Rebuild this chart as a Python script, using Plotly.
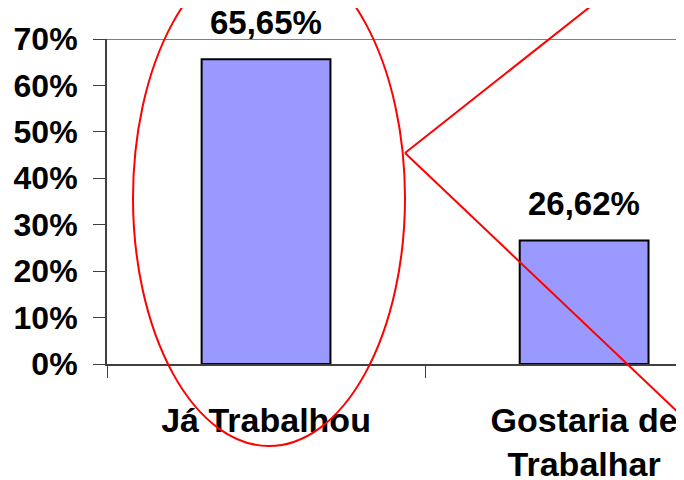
import plotly.graph_objects as go

categories = ["Já Trabalhou", "Gostaria de<br>Trabalhar"]
values = [65.65, 26.62]
y_ticks = [0, 10, 20, 30, 40, 50, 60, 70]
y_tick_labels = [f"{t}%" for t in y_ticks]

# the page body has an 8px margin, so the figure is drawn 8px in from the window edge
OFF = 8
W, H = 684 - OFF, 480 - OFF


def px(x):
    return (x - OFF) / W


def py(y):
    return 1 - (y - OFF) / H


def bold(size):
    return dict(family="Liberation Sans, Arial, sans-serif", size=size, color="black", weight="bold")


fig = go.Figure(go.Bar(
    x=categories,
    y=values,
    width=0.405,
    marker=dict(color="#9999FF", line=dict(color="black", width=2)),
))

# value labels above bars
for c, v in zip(categories, values):
    fig.add_annotation(
        x=c, y=v, text=f"{v:.2f}".replace(".", ",") + "%",
        showarrow=False, yanchor="bottom", yshift=16, font=bold(33),
    )

# grey line at the top of the plot area (70%)
fig.add_shape(type="line", xref="paper", yref="y", x0=px(95), x1=1, y0=70, y1=70,
              line=dict(color="#808080", width=2), layer="below")

# red highlight: ellipse around first bar and two lines leaving it
fig.add_shape(type="circle", xref="paper", yref="paper",
              x0=px(133), x1=px(405), y0=py(446), y1=py(-50),
              line=dict(color="#FF0000", width=2))
fig.add_shape(type="line", xref="paper", yref="paper",
              x0=px(405), y0=py(153), x1=px(605), y1=py(-5),
              line=dict(color="#FF0000", width=2))
fig.add_shape(type="line", xref="paper", yref="paper",
              x0=px(405), y0=py(153), x1=px(684), y1=py(418),
              line=dict(color="#FF0000", width=2))

fig.update_layout(
    width=W, height=H,
    margin=dict(l=0, r=0, t=0, b=0, autoexpand=False),
    plot_bgcolor="white",
    paper_bgcolor="white",
    font=bold(32),
    showlegend=False,
)

fig.update_xaxes(
    type="category",
    domain=[px(107), 1],
    range=[-0.5, 1.314],
    automargin=False,
    showline=True, linecolor="#404040", linewidth=2,
    ticks="outside", tickson="boundaries", ticklen=12, tickwidth=1, tickcolor="#404040",
    showgrid=False,
    tickfont=bold(34),
    ticklabelstandoff=25,
)

fig.update_yaxes(
    domain=[py(364), py(39)],
    range=[0, 70],
    tickmode="array",
    tickvals=y_ticks,
    ticktext=y_tick_labels,
    automargin=False,
    showline=True, linecolor="#404040", linewidth=2,
    ticks="outside", ticklen=12, tickwidth=1, tickcolor="#404040",
    showgrid=False, zeroline=False,
    tickfont=bold(32),
    ticklabelstandoff=9,
)

fig.write_html("out.html")
